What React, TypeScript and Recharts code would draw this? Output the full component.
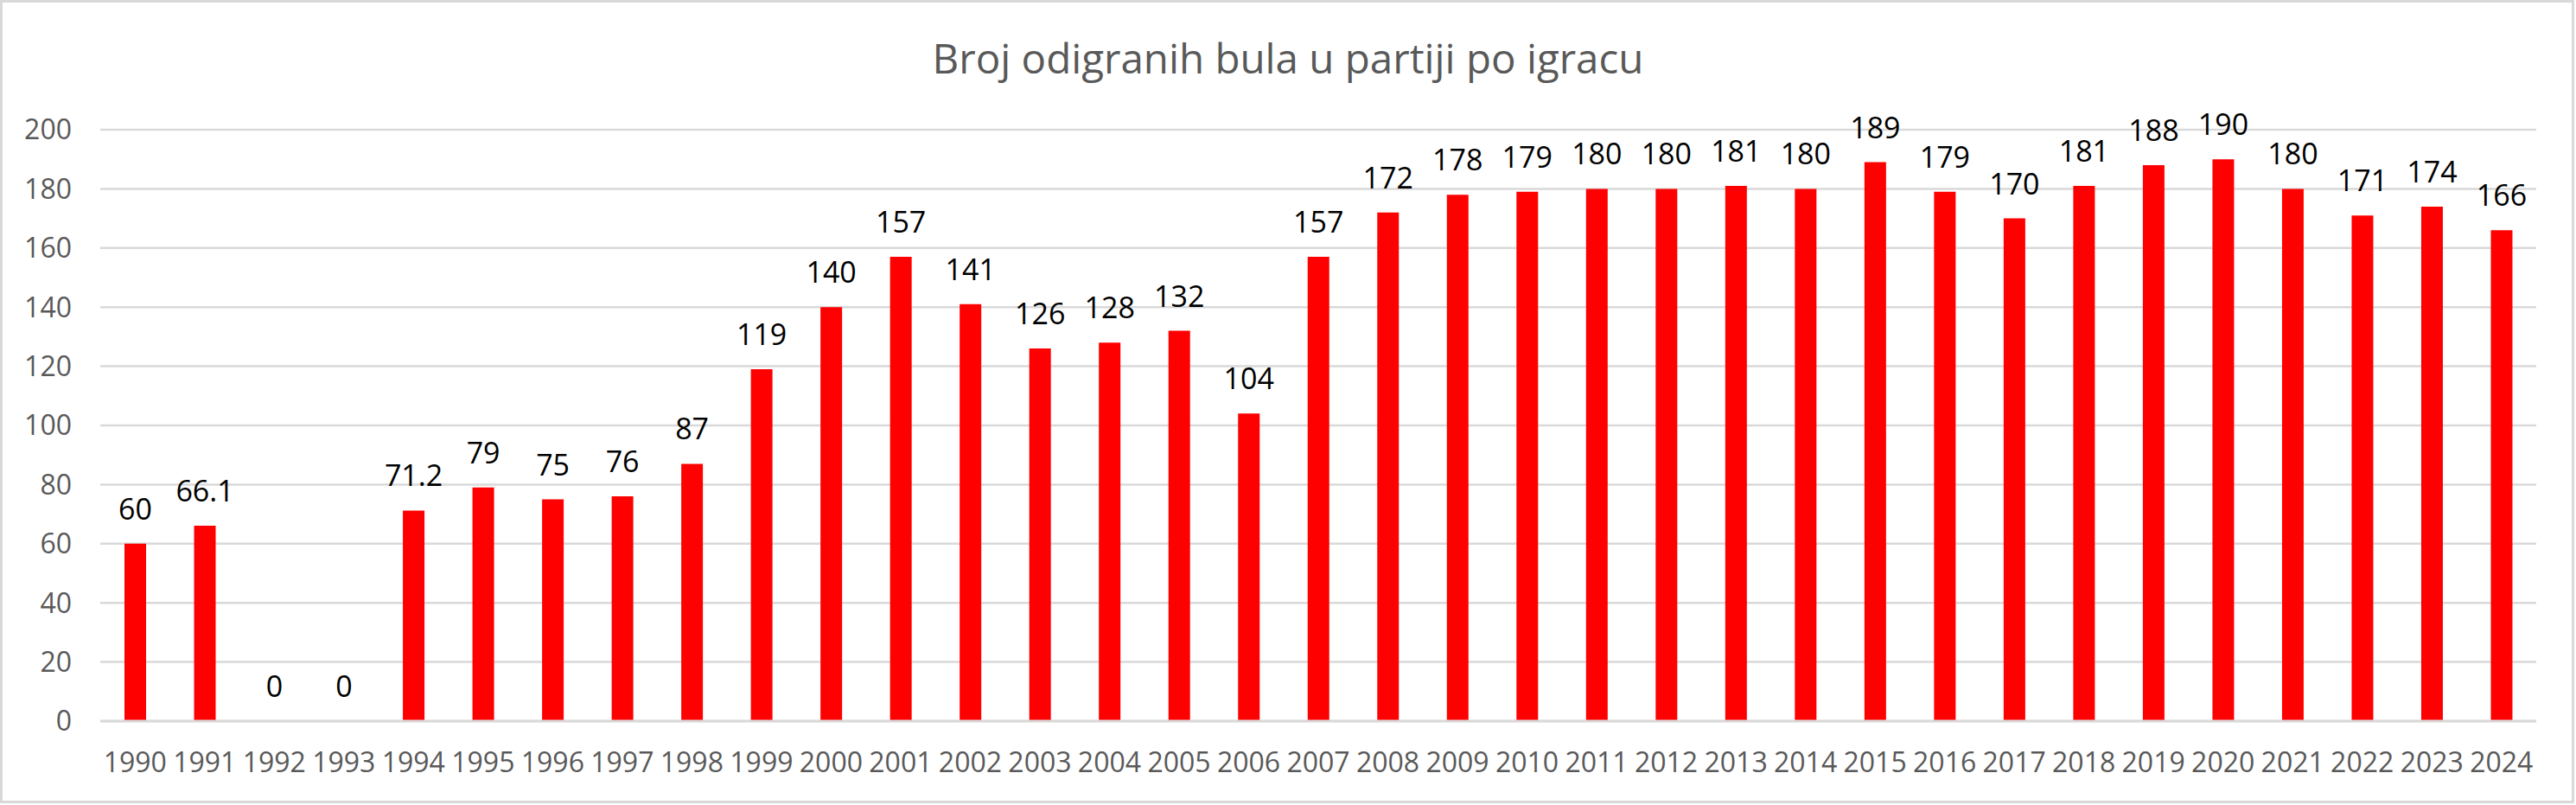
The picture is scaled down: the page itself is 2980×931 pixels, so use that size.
import React from "react";
import { BarChart, Bar, XAxis, YAxis, CartesianGrid, LabelList } from "recharts";

const years = [
  "1990", "1991", "1992", "1993", "1994", "1995", "1996", "1997", "1998", "1999",
  "2000", "2001", "2002", "2003", "2004", "2005", "2006", "2007", "2008", "2009",
  "2010", "2011", "2012", "2013", "2014", "2015", "2016", "2017", "2018", "2019",
  "2020", "2021", "2022", "2023", "2024",
];

const bule = [
  60, 66.1, 0, 0, 71.2, 79, 75, 76, 87, 119,
  140, 157, 141, 126, 128, 132, 104, 157, 172, 178,
  179, 180, 180, 181, 180, 189, 179, 170, 181, 188,
  190, 180, 171, 174, 166,
];

const yTicks = [0, 20, 40, 60, 80, 100, 120, 140, 160, 180, 200];

const title = "Broj odigranih bula u partiji po igracu";

const data = years.map((year, i) => ({ year, value: bule[i] }));

const FONT = "'Open Sans', 'Noto Sans', sans-serif";
const W = 2980;
const H = 931;

// zero bars get a hair of height so their "0" labels still show
const minSize = (value: number) => (value === 0 ? 0.01 : 0);

export default function App() {
  return (
    <div style={{ position: "absolute", left: 0, top: 0, width: W, height: H, background: "#fff" }}>
      <BarChart
        width={W}
        height={H}
        data={data}
        margin={{ top: 150, right: 46, bottom: 0, left: 0 }}
        barSize={25}
      >
        <CartesianGrid vertical={false} stroke="#d9d9d9" strokeWidth={2.5} />
        <XAxis
          dataKey="year"
          height={97}
          tickLine={false}
          tickSize={0}
          tickMargin={36}
          axisLine={{ stroke: "#d9d9d9", strokeWidth: 3 }}
          interval={0}
          tick={{ fill: "#595959", fontSize: 32, fontFamily: FONT }}
        />
        <YAxis
          width={116}
          domain={[0, 200]}
          ticks={yTicks}
          interval={0}
          tickLine={false}
          tickSize={0}
          tickMargin={33}
          axisLine={false}
          tick={{ fill: "#595959", fontSize: 32, fontFamily: FONT }}
        />
        <Bar dataKey="value" fill="#ff0000" minPointSize={minSize} isAnimationActive={false}>
          <LabelList
            dataKey="value"
            position="top"
            offset={28}
            fill="#000"
            fontSize={34}
            fontFamily={FONT}
          />
        </Bar>
      </BarChart>
      <svg
        width={W}
        height={H}
        style={{ position: "absolute", left: 0, top: 0, pointerEvents: "none" }}
      >
        <text
          x={W / 2}
          y={85}
          textAnchor="middle"
          fill="#595959"
          fontSize={47.5}
          fontFamily={FONT}
        >
          {title}
        </text>
        <rect x={1.5} y={1.5} width={W - 5} height={H - 5} fill="none" stroke="#d9d9d9" strokeWidth={3} />
      </svg>
    </div>
  );
}
